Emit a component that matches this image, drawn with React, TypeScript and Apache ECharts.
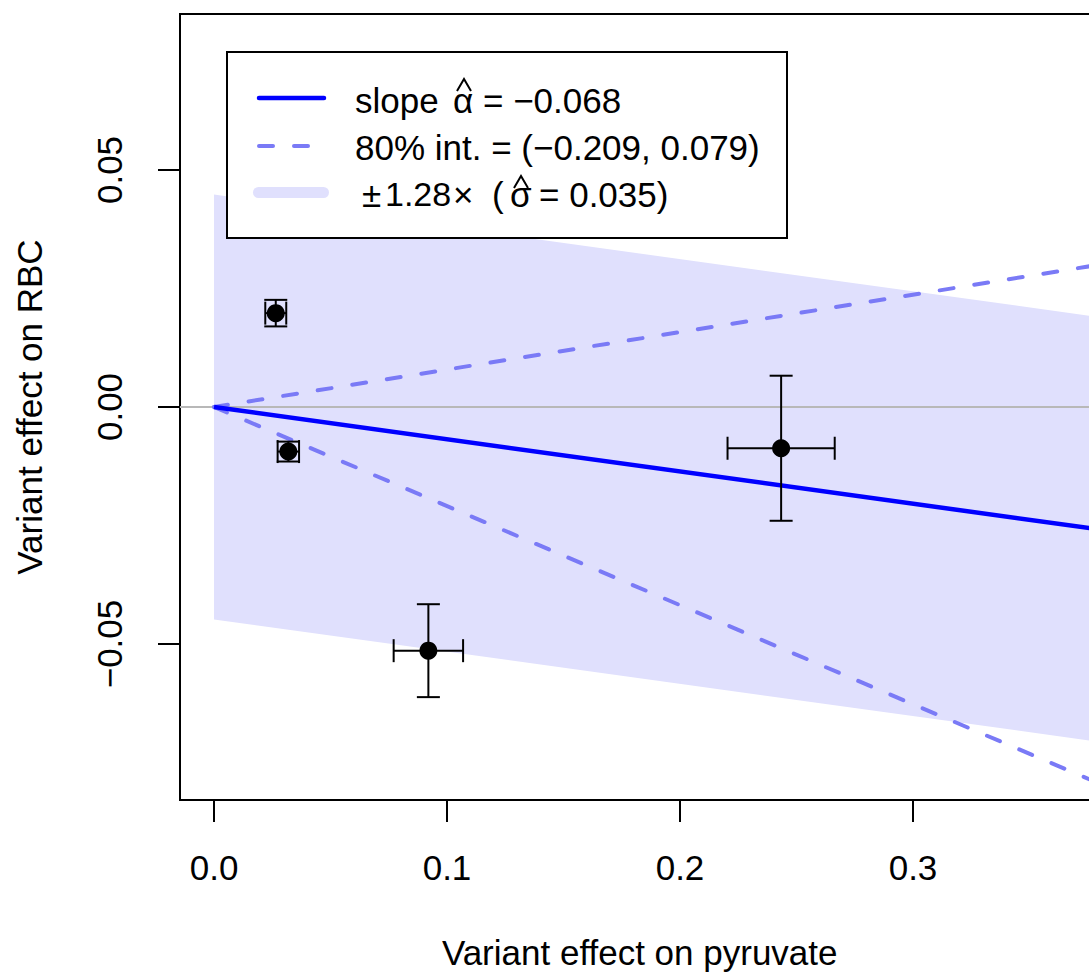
import React, { useEffect, useRef } from "react";
import * as echarts from "echarts";

// ---- data ----
const xTickValues = [0, 0.1, 0.2, 0.3];
const yTickValues = [-0.05, 0, 0.05];
const slopeHat = -0.068;
const intLow = -0.209;
const intHigh = 0.079;
const sigmaHat = 0.035;
const zMult = 1.28;
const pointX = [0.0265, 0.0319, 0.092, 0.2434];
const pointY = [0.0198, -0.0094, -0.0514, -0.0087];
const pointXErr = [0.0045, 0.0046, 0.0149, 0.023];
const pointYErr = [0.0028, 0.0021, 0.0098, 0.0153];
const xRange = [-0.0146, 0.38];
const yRange = [-0.0829, 0.0829];
const xTitle = "Variant effect on pyruvate";
const yTitle = "Variant effect on RBC";

const FONT = "'Liberation Sans', Arial, Helvetica, sans-serif";
const BLUE = "#0000ff";
const DASH = "#7a7af6";
const BAND = "#e0e0fd";

export default function App() {
  const ref = useRef<HTMLDivElement>(null);
  useEffect(() => {
    document.body.style.margin = "0";
    document.body.style.overflow = "hidden";
    const chart = echarts.init(ref.current!, null, { renderer: "svg" });
    const x0 = 0;
    const x1 = xRange[1];
    const half = zMult * sigmaHat;
    const bandPts = [
      [x0, slopeHat * x0 + half],
      [x1, slopeHat * x1 + half],
      [x1, slopeHat * x1 - half],
      [x0, slopeHat * x0 - half],
    ];
    const txt = (text: string, x: number, y: number, size: number) => ({
      type: "text",
      x,
      y,
      z: 100,
      style: {
        text,
        fill: "#000",
        font: `${size}px ${FONT}`,
        fontSize: size,
        fontFamily: FONT,
        align: "left",
        verticalAlign: "middle",
        textAlign: "left",
        textVerticalAlign: "middle",
      },
    });
    const hat = (cx: number, top: number) => ({
      type: "polyline",
      z: 100,
      shape: { points: [[cx - 7, top + 12], [cx, top], [cx + 7, top + 12]] },
      style: { stroke: "#000", lineWidth: 2, fill: null },
    });
    const option: any = {
      animation: false,
      grid: {
        left: 180,
        top: 14,
        width: 919.4,
        height: 786,
        show: true,
        borderColor: "#000",
        borderWidth: 2,
        backgroundColor: "transparent",
        outerBoundsMode: "none",
        containLabel: false,
      },
      xAxis: {
        type: "value",
        position: "bottom",
        min: xRange[0],
        max: xRange[1],
        axisLine: { show: false, onZero: false },
        splitLine: { show: false },
        axisTick: {
          show: true,
          length: 22,
          customValues: xTickValues,
          lineStyle: { color: "#000", width: 2 },
        },
        axisLabel: {
          customValues: xTickValues,
          formatter: (v: number) => v.toFixed(1),
          color: "#000",
          fontSize: 35,
          fontFamily: FONT,
          margin: 50,
        },
        name: xTitle,
        nameLocation: "middle",
        nameGap: 135,
        nameTextStyle: { color: "#000", fontSize: 35, fontFamily: FONT },
      },
      yAxis: {
        type: "value",
        position: "left",
        min: yRange[0],
        max: yRange[1],
        axisLine: { show: false, onZero: false },
        splitLine: { show: false },
        axisTick: {
          show: true,
          length: 22,
          customValues: yTickValues,
          lineStyle: { color: "#000", width: 2 },
        },
        axisLabel: {
          customValues: yTickValues,
          formatter: (v: number) => (Math.abs(v) < 1e-9 ? "0.00" : v.toFixed(2).replace("-", "\u2212")),
          color: "#000",
          fontSize: 35,
          fontFamily: FONT,
          rotate: 90,
          margin: 53,
        },
        name: yTitle,
        nameLocation: "middle",
        nameGap: 133,
        nameTextStyle: { color: "#000", fontSize: 35, fontFamily: FONT },
      },
      series: [
        {
          type: "custom",
          silent: true,
          z: 1,
          data: [0],
          renderItem: (_p: any, api: any) => ({
            type: "polygon",
            shape: { points: bandPts.map((p) => api.coord(p)) },
            style: { fill: BAND },
          }),
        },
        {
          type: "line",
          silent: true,
          z: 2,
          symbol: "none",
          data: [[xRange[0], 0], [xRange[1], 0]],
          lineStyle: { color: "#b8b8b8", width: 2 },
        },
        {
          type: "line",
          silent: true,
          z: 3,
          symbol: "none",
          data: [[x0, intHigh * x0], [x1, intHigh * x1]],
          lineStyle: { color: DASH, width: 4, type: [14, 21], cap: "round" },
        },
        {
          type: "line",
          silent: true,
          z: 3,
          symbol: "none",
          data: [[x0, intLow * x0], [x1, intLow * x1]],
          lineStyle: { color: DASH, width: 4, type: [14, 21], cap: "round" },
        },
        {
          type: "line",
          silent: true,
          z: 4,
          symbol: "none",
          data: [[x0, slopeHat * x0], [x1, slopeHat * x1]],
          lineStyle: { color: BLUE, width: 4.5 },
        },
        {
          type: "custom",
          silent: true,
          z: 5,
          encode: { x: 0, y: 1 },
          data: pointX.map((x, i) => [x, pointY[i], pointXErr[i], pointYErr[i]]),
          renderItem: (_p: any, api: any) => {
            const x = api.value(0);
            const y = api.value(1);
            const xe = api.value(2);
            const ye = api.value(3);
            const l = api.coord([x - xe, y]);
            const r = api.coord([x + xe, y]);
            const t = api.coord([x, y + ye]);
            const b = api.coord([x, y - ye]);
            const cap = 11.5;
            const st = { stroke: "#000", lineWidth: 2 };
            const ln = (a: number, bb: number, c: number, d: number) => ({
              type: "line",
              shape: { x1: a, y1: bb, x2: c, y2: d },
              style: st,
            });
            return {
              type: "group",
              children: [
                ln(t[0], t[1], b[0], b[1]),
                ln(t[0] - cap, t[1], t[0] + cap, t[1]),
                ln(b[0] - cap, b[1], b[0] + cap, b[1]),
                ln(l[0], l[1], r[0], r[1]),
                ln(l[0], l[1] - cap, l[0], l[1] + cap),
                ln(r[0], r[1] - cap, r[0], r[1] + cap),
              ],
            };
          },
        },
        {
          type: "scatter",
          silent: true,
          z: 6,
          symbol: "circle",
          symbolSize: 18,
          itemStyle: { color: "#000", opacity: 1 },
          data: pointX.map((x, i) => [x, pointY[i]]),
        },
      ],
      graphic: [
        {
          type: "rect",
          z: 99,
          shape: { x: 227, y: 52, width: 560, height: 186 },
          style: { fill: "#fff", stroke: "#000", lineWidth: 2 },
        },
        {
          type: "line",
          z: 100,
          shape: { x1: 259, y1: 98, x2: 324, y2: 98 },
          style: { stroke: BLUE, lineWidth: 4.5, lineCap: "round" },
        },
        {
          type: "line",
          z: 100,
          shape: { x1: 259, y1: 146, x2: 324, y2: 146 },
          style: { stroke: DASH, lineWidth: 4, lineCap: "round", lineDash: [14, 21] },
        },
        {
          type: "line",
          z: 100,
          shape: { x1: 258.5, y1: 192.5, x2: 323.5, y2: 192.5 },
          style: { stroke: BAND, lineWidth: 11, lineCap: "round" },
        },
        txt("slope", 355, 100, 35),
        txt("\u03b1", 453, 100, 35),
        hat(464, 79),
        txt("= \u22120.068", 483, 100, 35),
        txt("80% int. = (\u22120.209, 0.079)", 355, 147, 35),
        txt("\u00b1", 362, 194, 35),
        txt("1.28", 385, 194, 34),
        txt("\u00d7", 453, 194, 35),
        txt("(", 492, 194, 35),
        txt("\u03c3", 510, 194, 35),
        hat(521, 176),
        txt("= 0.035)", 539, 194, 35),
      ],
    };
    chart.setOption(option);
    return () => chart.dispose();
  }, []);
  return <div ref={ref} style={{ width: 1089, height: 974 }} />;
}
